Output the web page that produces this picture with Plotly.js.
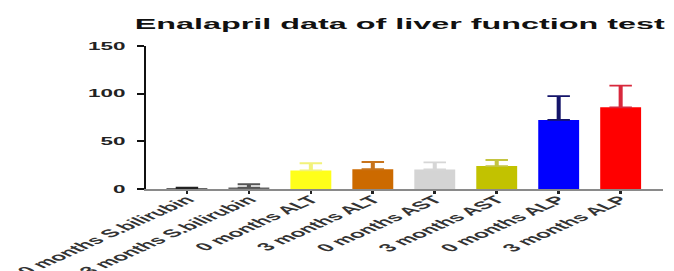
<!DOCTYPE html>
<html><head><meta charset="utf-8">
<script src="https://cdn.plot.ly/plotly-3.0.1.min.js"></script>
<style>
html,body{margin:0;padding:0;background:#fff;overflow:hidden;width:674px;height:271px}
#c{width:300px;height:271px;transform:scaleX(2.2467);transform-origin:0 0}
</style>
</head><body><div id="c"></div>
<script>
var categories = ["0 months S.bilirubin","3 months S.bilirubin","0 months ALT","3 months ALT","0 months AST","3 months AST","0 months ALP","3 months ALP"];
var means = [0.8, 1.5, 19.5, 20.7, 20.5, 24, 72.5, 85.7];
var sds = [0.6, 3.5, 7.5, 7.6, 7.5, 6.4, 25, 22.7];
var barColors = ["#333333","#666666","#FFFF1A","#CC6A00","#D4D4D4","#C2C200","#0000FF","#FF0000"];
var errColors = ["#222222","#555555","#F2F27A","#C8741C","#D6D6D6","#C4C440","#14146A","#D8283C"];
var yTicks = [0, 50, 100, 150];

var traces = categories.map(function(c,i){
  return {type:'bar', x:[c], y:[means[i]], width:0.66,
    marker:{color:barColors[i]},
    error_y:{type:'data', array:[sds[i]], symmetric:false, arrayminus:[0], color:errColors[i], thickness:1.8, width:5},
    showlegend:false, hoverinfo:'skip'};
});

var fam = 'Liberation Sans, Arial, sans-serif';
var layout = {
  width:300, height:271,
  margin:{l:65, r:5.3, t:46, b:82},
  paper_bgcolor:'#fff', plot_bgcolor:'#fff',
  title:{text:'Enalapril data of liver function test', x:0.491, xref:'paper', xanchor:'center',
    y:0.913, yref:'container', yanchor:'middle',
    font:{family:fam, size:14.4, weight:'bold', color:'#111'}},
  xaxis:{type:'category', categoryarray:categories, range:[-0.66,7.68],
    showline:true, linecolor:'#8a8a8a', linewidth:2, ticks:'outside', ticklen:3, tickwidth:1.2, tickcolor:'#222',
    tickangle:-45, ticklabelstandoff:-5, tickfont:{family:fam, size:11, weight:'bold', color:'#333'},
    showgrid:false, zeroline:false},
  yaxis:{range:[0,150], tickvals:yTicks, ticktext:yTicks.map(String),
    showline:true, linecolor:'#111', linewidth:1.1, ticks:'outside', ticklen:3, tickwidth:2, tickcolor:'#111',
    ticklabelstandoff:3,
    tickfont:{family:fam, size:10, weight:'bold', color:'#222'},
    showgrid:false, zeroline:false}
};
Plotly.newPlot('c', traces, layout, {displayModeBar:false, staticPlot:true});
</script></body></html>
